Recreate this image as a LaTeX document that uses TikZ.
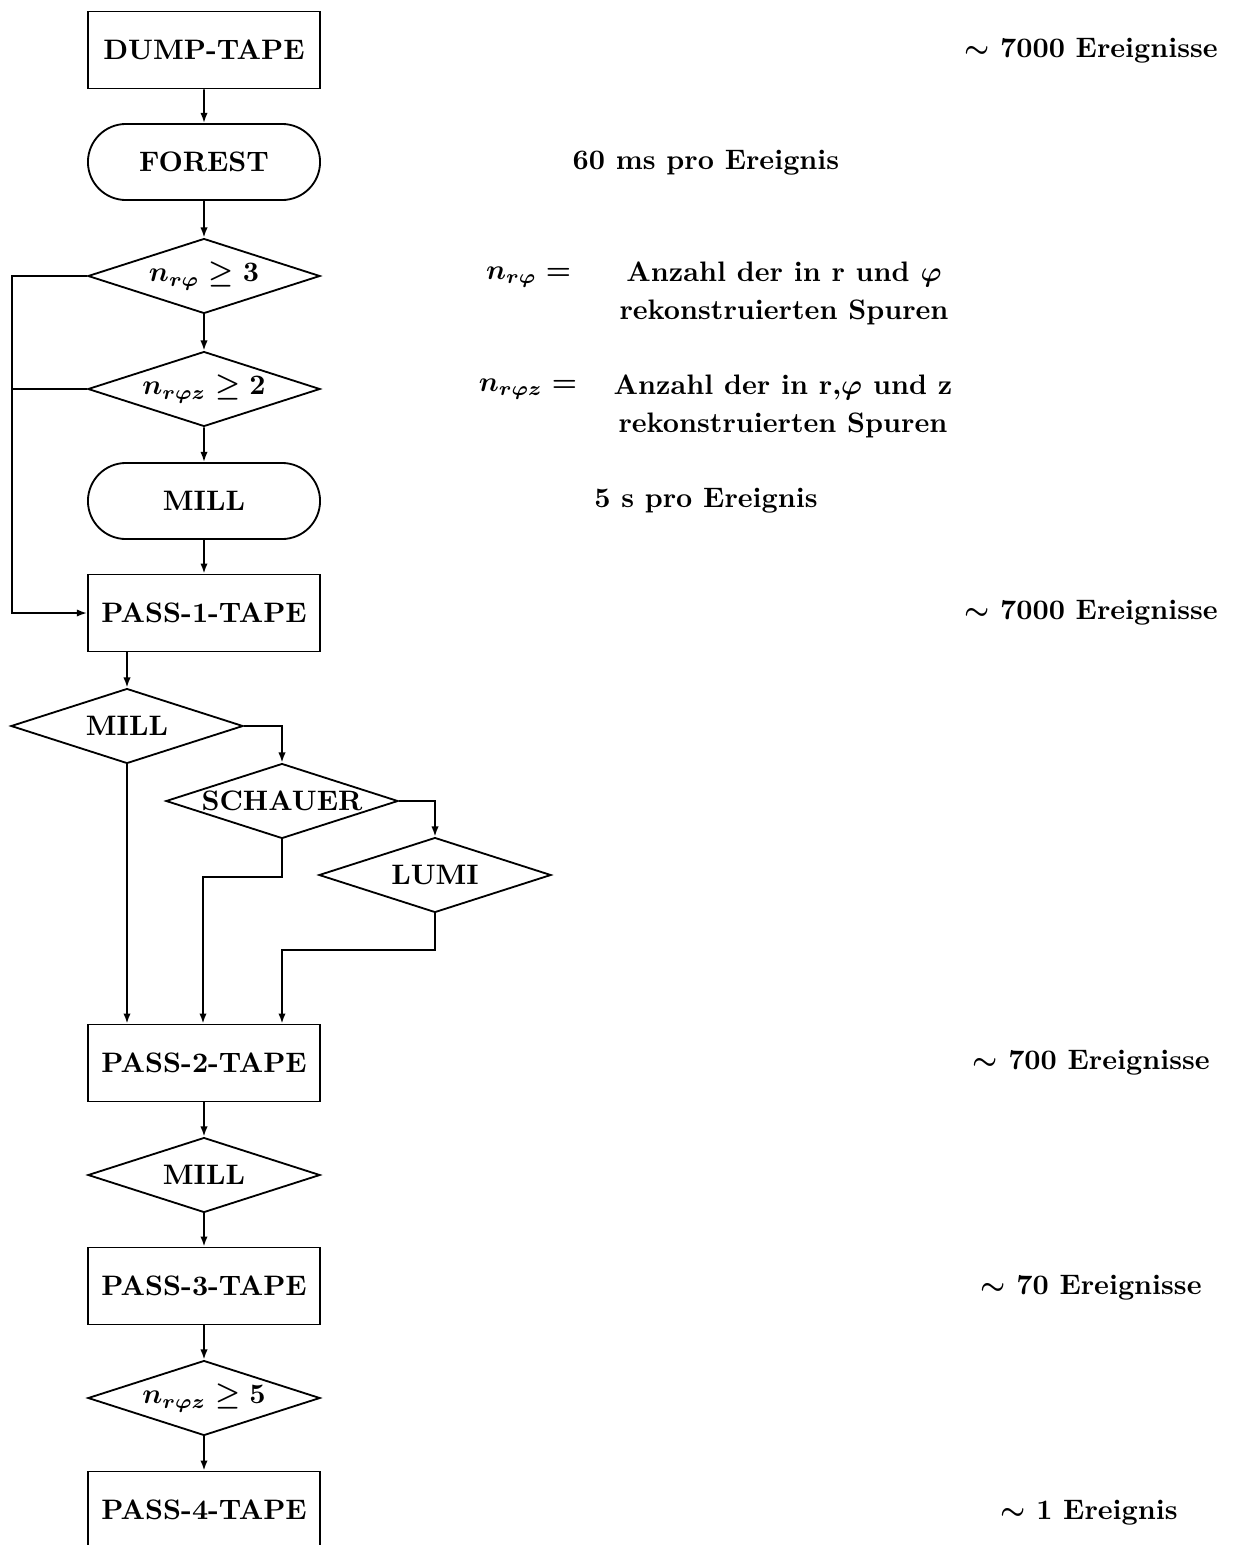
\documentclass[tikz,border=0pt]{standalone}
\usetikzlibrary{shapes.geometric,shapes.misc,arrows.meta}
\begin{document}
\begin{tikzpicture}[
  x=0.355pt, y=-0.355pt, line width=0.65pt,
  box/.style={draw, rectangle, minimum width=82.4pt, minimum height=27.3pt, inner sep=0pt, font=\bfseries},
  pill/.style={draw, rounded rectangle, minimum width=82.4pt, minimum height=27pt, inner sep=0pt, font=\bfseries},
  test/.style={draw, diamond, minimum width=82.4pt, minimum height=26.6pt, inner sep=0pt, font=\bfseries\boldmath},
  flow/.style={-{Latex[length=3.6pt,width=2.6pt]}},
  note/.style={font=\bfseries\boldmath, inner sep=0pt}
]
\useasboundingbox (0,0) rectangle (1233,1545);
\clip (0,0) rectangle (1233,1545);

% main column
\node[box]  (dump)    at (204,50)   {DUMP-TAPE};
\node[pill] (forest)  at (204,162)  {FOREST};
\node[test] (nrp)     at (204,276)  {\makebox[0pt]{$n_{r\varphi}\geq 3$}};
\node[test] (nrpz)    at (204,389)  {\makebox[0pt]{$n_{r\varphi z}\geq 2$}};
\node[pill] (mill)    at (204,501)  {MILL};
\node[box]  (pass1)   at (204,613)  {PASS-1-TAPE};
\node[test] (millb)   at (127,726)  {\makebox[0pt]{MILL}};
\node[test] (schauer) at (282,801)  {\makebox[0pt]{SCHAUER}};
\node[test] (lumi)    at (435,875)  {\makebox[0pt]{LUMI}};
\node[box]  (pass2)   at (204,1063) {PASS-2-TAPE};
\node[test] (millc)   at (204,1175) {\makebox[0pt]{MILL}};
\node[box]  (pass3)   at (204,1286) {PASS-3-TAPE};
\node[test] (nrpz5)   at (204,1398) {\makebox[0pt]{$n_{r\varphi z}\geq 5$}};
\node[box]  (pass4)   at (204,1510) {PASS-4-TAPE};

% bend points of the side paths
\coordinate (bypass) at (12,276);
\coordinate (sbend)  at (203,877);
\coordinate (lbend)  at (282,950);

% connectors
\draw[flow] (dump) -- (forest);
\draw[flow] (forest) -- (nrp);
\draw[flow] (nrp) -- (nrpz);
\draw[flow] (nrpz) -- (mill);
\draw[flow] (mill) -- (pass1);
\draw[flow] (nrp.west) -- (bypass) |- (pass1.west);
\draw (nrpz.west) -- (nrpz.west -| bypass);
\draw[flow] (pass1.south -| millb.north) -- (millb.north);
\draw[flow] (millb.east) -| (schauer.north);
\draw[flow] (schauer.east) -| (lumi.north);
\draw[flow] (millb.south) -- (millb.south |- pass2.north);
\draw[flow] (schauer.south) |- (sbend) -- (sbend |- pass2.north);
\draw[flow] (lumi.south) |- (lbend) -- (lbend |- pass2.north);
\draw[flow] (pass2) -- (millc);
\draw[flow] (millc) -- (pass3);
\draw[flow] (pass3) -- (nrpz5);
\draw[flow] (nrpz5) -- (pass4);

% annotations
\node[note] (ev1) at (1091,51) {$\sim$ 7000 Ereignisse};
\node[note] (t1)  at (706,163) {60 ms pro Ereignis};
\node[note, anchor=east] (defa) at (572,277) {$n_{r\varphi} =$};
\node[note, align=center] (defatext) at (784,293) {Anzahl der in r und $\varphi$\\[1.5pt] rekonstruierten Spuren};
\node[note, anchor=east] (defb) at (578,389) {$n_{r\varphi z} =$};
\node[note, align=center] (defbtext) at (783,406) {Anzahl der in r,$\varphi$ und z\\[1.5pt] rekonstruierten Spuren};
\node[note] (t2)  at (706,501) {5 s pro Ereignis};
\node[note] (ev2) at (1091,613) {$\sim$ 7000 Ereignisse};
\node[note] (ev3) at (1091,1063) {$\sim$ 700 Ereignisse};
\node[note] (ev4) at (1091,1288) {$\sim$ 70 Ereignisse};
\node[note] (ev5) at (1089,1513) {$\sim$ 1 Ereignis};
\end{tikzpicture}
\end{document}
